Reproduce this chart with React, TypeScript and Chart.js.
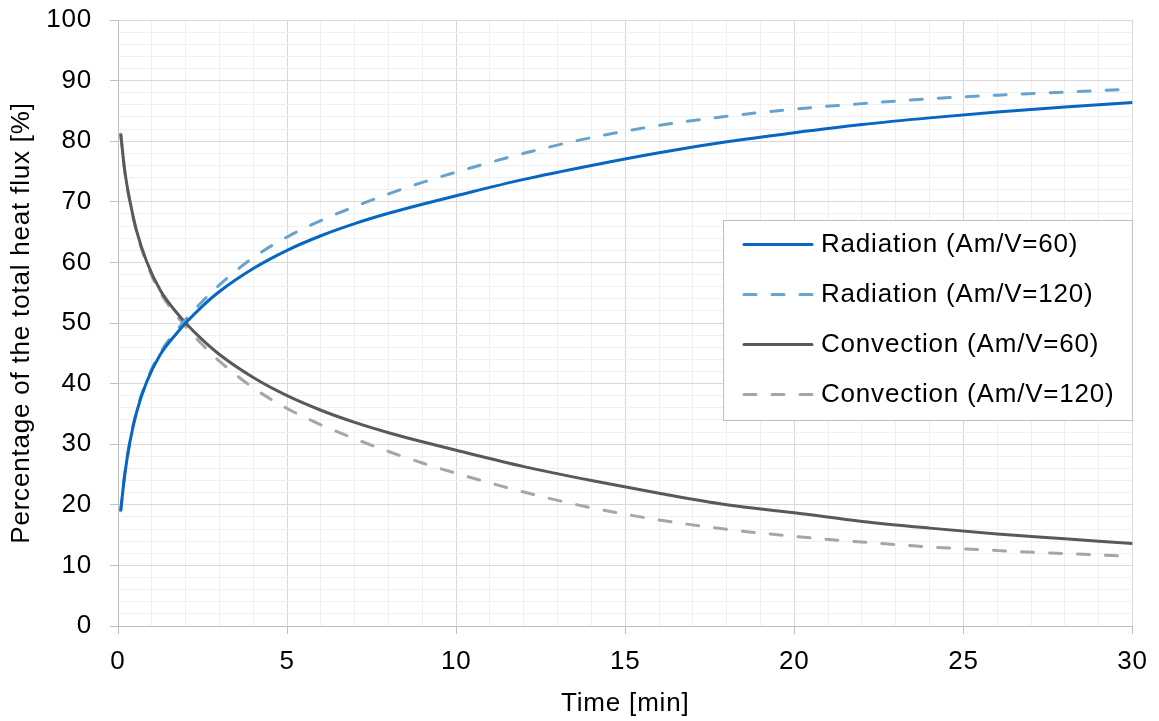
import React, { useEffect, useRef } from 'react';
import { Chart, registerables } from 'chart.js';

Chart.register(...registerables);

// ---- data ----
const timeMin = [0.08, 0.2, 0.35, 0.55, 0.85, 1.25, 1.75, 2, 2.5, 3, 4, 5, 6, 7, 8, 9, 10, 12, 14, 16, 18, 20, 22, 24, 26, 28, 30];
const radiation60 = [19, 25, 30.3, 35.3, 40.3, 44.8, 48.4, 50, 52.8, 55.2, 59.0, 62.0, 64.4, 66.4, 68.1, 69.6, 71.0, 73.7, 76.0, 78.1, 79.9, 81.4, 82.75, 83.85, 84.8, 85.65, 86.4];
const radiation120 = [19, 25.1, 30.4, 35.5, 40.5, 45.1, 48.9, 50.6, 53.6, 56.3, 60.8, 64.2, 66.9, 69.2, 71.3, 73.2, 74.9, 78.0, 80.6, 82.6, 84.1, 85.3, 86.2, 87.0, 87.6, 88.1, 88.6];
const convection60 = [81.2, 75.1, 70.2, 65.2, 60.1, 55.4, 51.6, 50, 47.2, 44.8, 41.0, 38.0, 35.6, 33.6, 31.9, 30.4, 29.0, 26.3, 24.0, 21.9, 20.0, 18.7, 17.25, 16.15, 15.2, 14.4, 13.6];
const convection120 = [81.2, 75.0, 70.0, 65.0, 59.8, 55.0, 51.1, 49.4, 46.4, 43.7, 39.3, 35.9, 33.2, 30.9, 28.8, 26.9, 25.2, 22.1, 19.5, 17.5, 15.95, 14.8, 13.85, 13.05, 12.45, 11.95, 11.5];

const seriesLabels = ['Radiation (Am/V=60)', 'Radiation (Am/V=120)', 'Convection (Am/V=60)', 'Convection (Am/V=120)'];
const xTitle = 'Time [min]';
const yTitle = 'Percentage of the total heat flux [%]';

const FONT = '"Liberation Sans", Arial, Helvetica, sans-serif';

const toPoints = (ys: number[]) => timeMin.map((x, i) => ({ x, y: ys[i] }));

const spacingPlugin = {
  id: 'spacing',
  beforeDraw(chart: any) {
    chart.ctx.letterSpacing = '0.8px';
  },
  afterDraw(chart: any) {
    chart.ctx.letterSpacing = '0px';
  },
};

const boxLegend = {
  id: 'boxLegend',
  afterDatasetsDraw(chart: any) {
    const { ctx, chartArea } = chart;
    const left = chartArea.left + 605;
    const top = chartArea.top + 200;
    const w = 409;
    const h = 200;
    ctx.save();
    ctx.fillStyle = '#ffffff';
    ctx.fillRect(left, top, w, h);
    ctx.strokeStyle = '#bfbfbf';
    ctx.lineWidth = 1;
    ctx.strokeRect(left + 0.5, top + 0.5, w, h);
    chart.data.datasets.forEach((ds: any, i: number) => {
      const y = top + 24.5 + i * 50;
      ctx.beginPath();
      ctx.setLineDash(ds.borderDash || []);
      ctx.lineCap = 'round';
      ctx.strokeStyle = ds.borderColor;
      ctx.lineWidth = ds.borderWidth;
      ctx.moveTo(left + 21, y);
      ctx.lineTo(left + 89, y);
      ctx.stroke();
      ctx.setLineDash([]);
      ctx.fillStyle = '#000000';
      ctx.font = `26px ${FONT}`;
      ctx.textBaseline = 'middle';
      ctx.textAlign = 'left';
      ctx.fillText(ds.label, left + 98, y);
    });
    ctx.restore();
  },
};

export default function App() {
  const canvasRef = useRef<HTMLCanvasElement | null>(null);

  useEffect(() => {
    const canvas = canvasRef.current;
    if (!canvas) return;
    const chart = new Chart(canvas, {
      type: 'line',
      data: {
        datasets: [
          {
            label: seriesLabels[0],
            data: toPoints(radiation60),
            borderColor: '#0766c2',
            borderWidth: 3,
            pointRadius: 0,
            cubicInterpolationMode: 'monotone',
            fill: false,
          },
          {
            label: seriesLabels[1],
            data: toPoints(radiation120),
            borderColor: '#66a3cf',
            borderWidth: 3,
            borderDash: [12, 16],
            borderCapStyle: 'round',
            pointRadius: 0,
            cubicInterpolationMode: 'monotone',
            fill: false,
          },
          {
            label: seriesLabels[2],
            data: toPoints(convection60),
            borderColor: '#595959',
            borderWidth: 3,
            pointRadius: 0,
            cubicInterpolationMode: 'monotone',
            fill: false,
          },
          {
            label: seriesLabels[3],
            data: toPoints(convection120),
            borderColor: '#a6a6a6',
            borderWidth: 3,
            borderDash: [12, 16],
            borderCapStyle: 'round',
            pointRadius: 0,
            cubicInterpolationMode: 'monotone',
            fill: false,
          },
        ],
      },
      options: {
        animation: false,
        responsive: false,
        maintainAspectRatio: false,
        layout: { padding: { top: 20, right: 26, left: 0, bottom: 0 } },
        plugins: {
          legend: { display: false },
          tooltip: { enabled: false },
        },
        scales: {
          x: {
            type: 'linear',
            min: 0,
            max: 30,
            afterFit: (s: any) => {
              s.height = 95;
            },
            ticks: {
              stepSize: 1,
              autoSkip: false,
              maxRotation: 0,
              padding: 12,
              color: '#000000',
              font: { family: FONT, size: 26 },
              callback: (v: any) => (Number(v) % 5 === 0 ? String(v) : ''),
            },
            grid: {
              lineWidth: 1,
              tickLength: 8,
              color: (c: any) => (c.tick && c.tick.value % 5 === 0 ? '#d9d9d9' : '#f0f0f0'),
              tickColor: (c: any) => (c.tick && c.tick.value % 5 === 0 ? '#bfbfbf' : 'rgba(0,0,0,0)'),
            },
            border: { color: '#bfbfbf', width: 1 },
            title: {
              display: true,
              text: xTitle,
              color: '#000000',
              font: { family: FONT, size: 26 },
              padding: { top: 0, bottom: 2 },
            },
          },
          y: {
            type: 'linear',
            min: 0,
            max: 100,
            afterFit: (s: any) => {
              s.width = 118;
              s.paddingTop = 0;
              s.paddingBottom = 0;
            },
            ticks: {
              stepSize: 2,
              autoSkip: false,
              padding: 18,
              color: '#000000',
              font: { family: FONT, size: 26 },
              callback: (v: any) => (Number(v) % 10 === 0 ? String(v) : ''),
            },
            grid: {
              lineWidth: 1,
              tickLength: 8,
              color: (c: any) => (c.tick && c.tick.value % 10 === 0 ? '#d9d9d9' : '#f0f0f0'),
              tickColor: (c: any) => (c.tick && c.tick.value % 10 === 0 ? '#bfbfbf' : 'rgba(0,0,0,0)'),
            },
            border: { color: '#bfbfbf', width: 1 },
            title: {
              display: true,
              text: yTitle,
              color: '#000000',
              font: { family: FONT, size: 26 },
              padding: { top: 6, bottom: 0 },
            },
          },
        },
      },
      plugins: [spacingPlugin, boxLegend],
    } as any);
    return () => chart.destroy();
  }, []);

  return (
    <div style={{ position: 'absolute', left: 0, top: 0, width: 1159, height: 721, background: '#ffffff' }}>
      <canvas ref={canvasRef} width={1159} height={721} style={{ display: 'block' }} />
    </div>
  );
}
